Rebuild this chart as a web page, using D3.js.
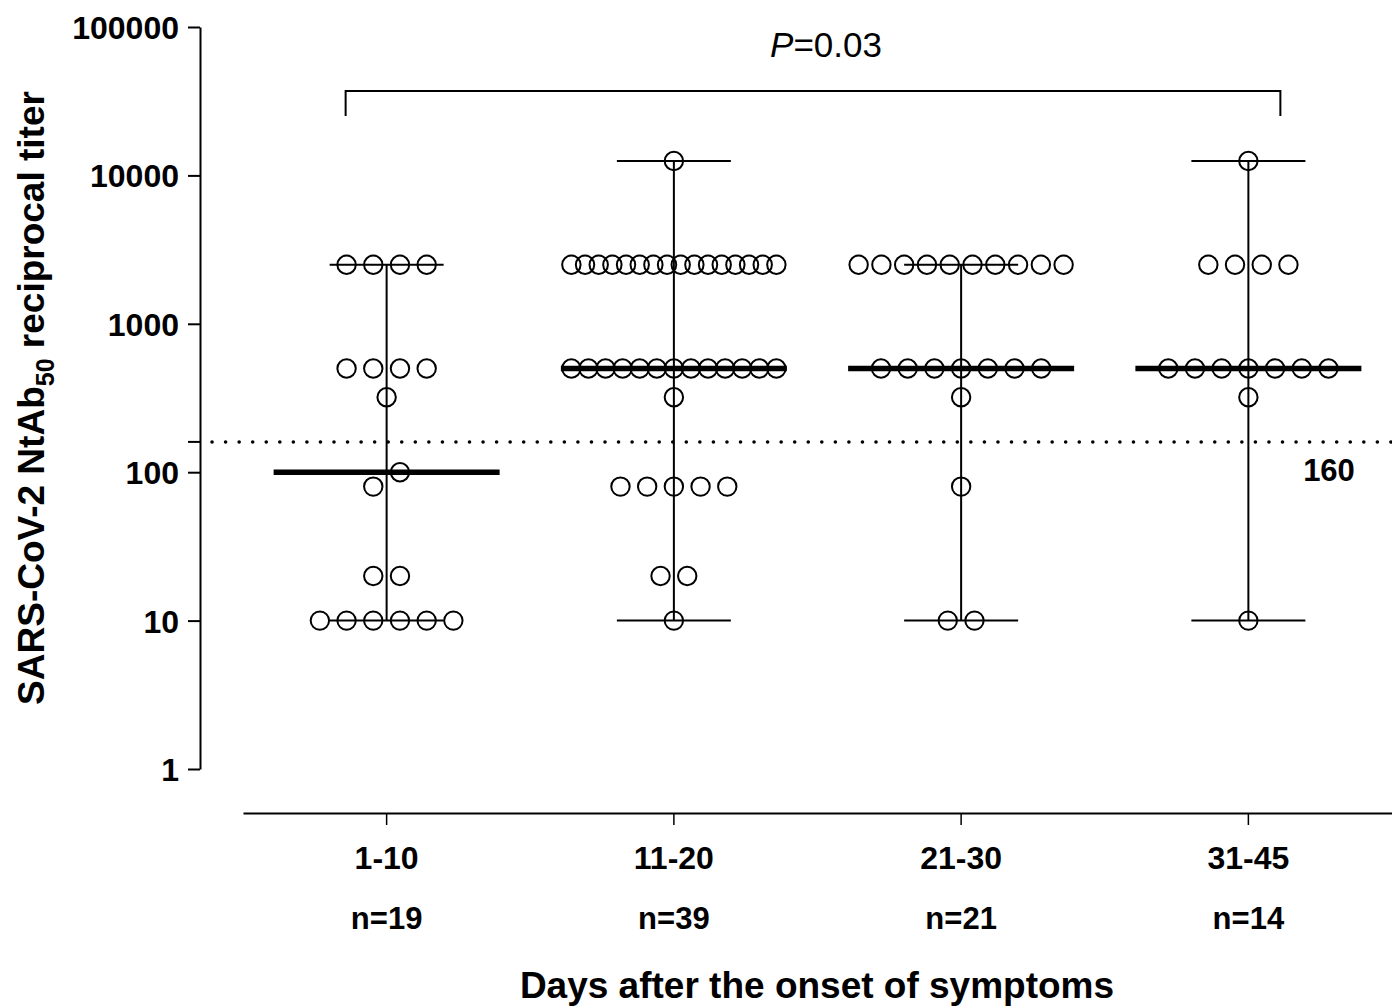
<!DOCTYPE html>
<html>
<head>
<meta charset="utf-8">
<script src="https://cdn.jsdelivr.net/npm/d3@7"></script>
<style>
  html, body { margin: 0; padding: 0; background: #fff; }
  svg { display: block; font-family: "Liberation Sans", Arial, sans-serif; }
</style>
</head>
<body>
<svg id="chart" width="1392" height="1008"></svg>
<script>
// ---------- data ----------
const categories = ["1-10", "11-20", "21-30", "31-45"];
const sampleSizes = ["n=19", "n=39", "n=21", "n=14"];
const titers_1_10 = [2500, 2500, 2500, 2500, 500, 500, 500, 500, 320, 100, 80, 20, 20, 10, 10, 10, 10, 10, 10];
const titers_11_20 = [12500,
  2500, 2500, 2500, 2500, 2500, 2500, 2500, 2500, 2500, 2500, 2500, 2500, 2500, 2500, 2500, 2500,
  500, 500, 500, 500, 500, 500, 500, 500, 500, 500, 500, 500, 500,
  320, 80, 80, 80, 80, 80, 20, 20, 10];
const titers_21_30 = [2500, 2500, 2500, 2500, 2500, 2500, 2500, 2500, 2500, 2500,
  500, 500, 500, 500, 500, 500, 500, 320, 80, 10, 10];
const titers_31_45 = [12500, 2500, 2500, 2500, 2500, 500, 500, 500, 500, 500, 500, 500, 320, 10];
const groups = [titers_1_10, titers_11_20, titers_21_30, titers_31_45];
const medians = [100, 500, 500, 500];
const yTickValues = [1, 10, 100, 1000, 10000, 100000];
const cutoff = 160;
const pLabel = "0.03";

// ---------- layout ----------
const svg = d3.select("#chart");
const axisX = 200, plotTop = 27, plotBottom = 769;
const xAxisY = 813, xLeft = 243, xRight = 1392;

const y = d3.scaleLog().domain([1, 100000]).range([plotBottom, plotTop]);
const x = d3.scaleBand().domain(categories).range([xLeft, xRight]).padding(0);
const cx = c => x(c) + x.bandwidth() / 2;

// y axis
const yAxis = d3.axisLeft(y).tickValues(yTickValues).tickFormat(d3.format("d")).tickSize(12).tickSizeOuter(0);
const gy = svg.append("g").attr("transform", `translate(${axisX},0)`).call(yAxis);
gy.select(".domain").attr("stroke", "#000").attr("stroke-width", 2);
gy.selectAll(".tick line").attr("stroke", "#000").attr("stroke-width", 2);
gy.selectAll(".tick text").attr("font-size", 32).attr("font-weight", "bold").attr("fill", "#000")
  .attr("x", -21).attr("dy", "0.36em").attr("font-family", "Liberation Sans, Arial, sans-serif");
// tick at cutoff
gy.append("line").attr("x1", -12).attr("x2", 0).attr("y1", y(cutoff)).attr("y2", y(cutoff))
  .attr("stroke", "#000").attr("stroke-width", 2);

// x axis
const xAxis = d3.axisBottom(x).tickSize(12).tickSizeOuter(0).tickFormat("");
const gx = svg.append("g").attr("transform", `translate(0,${xAxisY})`).call(xAxis);
gx.select(".domain").attr("stroke", "#000").attr("stroke-width", 2);
gx.selectAll(".tick line").attr("stroke", "#000").attr("stroke-width", 1.5);

categories.forEach((c, i) => {
  svg.append("text").attr("x", cx(c)).attr("y", 869).attr("text-anchor", "middle")
    .attr("font-size", 32).attr("font-weight", "bold").text(c);
  svg.append("text").attr("x", cx(c)).attr("y", 929).attr("text-anchor", "middle")
    .attr("font-size", 31).attr("font-weight", "bold").text(sampleSizes[i]);
});

svg.append("text").attr("x", 817).attr("y", 998).attr("text-anchor", "middle")
  .attr("font-size", 37).attr("font-weight", "bold").text("Days after the onset of symptoms");

// y title
const yt = svg.append("text").attr("transform", `translate(44,${398}) rotate(-90)`)
  .attr("text-anchor", "middle").attr("font-size", 37).attr("font-weight", "bold");
yt.append("tspan").text("SARS-CoV-2 NtAb");
yt.append("tspan").attr("font-size", 25).attr("dy", 10).text("50");
yt.append("tspan").attr("dy", -10).text(" reciprocal titer");

// cutoff dotted line
svg.append("line").attr("x1", axisX + 12).attr("x2", 1392).attr("y1", y(cutoff)).attr("y2", y(cutoff))
  .attr("stroke", "#000").attr("stroke-width", 3.5).attr("stroke-linecap", "round")
  .attr("stroke-dasharray", "0.1 13.45");
svg.append("text").attr("x", 1329).attr("y", 481).attr("text-anchor", "middle")
  .attr("font-size", 31).attr("font-weight", "bold").text(String(cutoff));

// whiskers + medians + points
const capHalf = 57, medHalf = 113, r = 9.2;
const maxSpacing = 26.7, maxRowWidth = 205;

groups.forEach((vals, gi) => {
  const c = categories[gi], xc = cx(c);
  const lo = d3.min(vals), hi = d3.max(vals);
  const g = svg.append("g");
  g.append("line").attr("x1", xc).attr("x2", xc).attr("y1", y(lo)).attr("y2", y(hi))
    .attr("stroke", "#000").attr("stroke-width", 2);
  [lo, hi].forEach(v => g.append("line").attr("x1", xc - capHalf).attr("x2", xc + capHalf)
    .attr("y1", y(v)).attr("y2", y(v)).attr("stroke", "#000").attr("stroke-width", 2));
  g.append("line").attr("x1", xc - medHalf).attr("x2", xc + medHalf)
    .attr("y1", y(medians[gi])).attr("y2", y(medians[gi])).attr("stroke", "#000").attr("stroke-width", 5.5);

  // build rows: values whose pixel positions are closer than a circle diameter share a row
  const sorted = vals.slice().sort((a, b) => b - a);
  const rows = [];
  sorted.forEach(v => {
    const last = rows[rows.length - 1];
    if (last && Math.abs(y(last[0]) - y(v)) < 2 * r) last.push(v);
    else rows.push([v]);
  });
  const pts = [];
  rows.forEach(row => {
    row.sort((a, b) => a - b);
    const k = row.length;
    const sp = k > 1 ? Math.min(maxSpacing, maxRowWidth / (k - 1)) : 0;
    row.forEach((v, j) => pts.push({ v, px: xc + (j - (k - 1) / 2) * sp }));
  });
  g.selectAll("circle").data(pts).join("circle")
    .attr("cx", d => d.px).attr("cy", d => y(d.v)).attr("r", r)
    .attr("fill", "none").attr("stroke", "#000").attr("stroke-width", 2);
});

// significance bracket
const bL = cx(categories[0]) - 41, bR = cx(categories[3]) + 32, bTop = 91, bBot = 116;
svg.append("path").attr("d", `M${bL},${bBot}V${bTop}H${bR}V${bBot}`)
  .attr("fill", "none").attr("stroke", "#000").attr("stroke-width", 2);
const pt = svg.append("text").attr("x", (bL + bR) / 2 + 13).attr("y", 57).attr("text-anchor", "middle")
  .attr("font-size", 35);
pt.append("tspan").attr("font-style", "italic").text("P");
pt.append("tspan").text("=" + pLabel);
</script>
</body>
</html>
